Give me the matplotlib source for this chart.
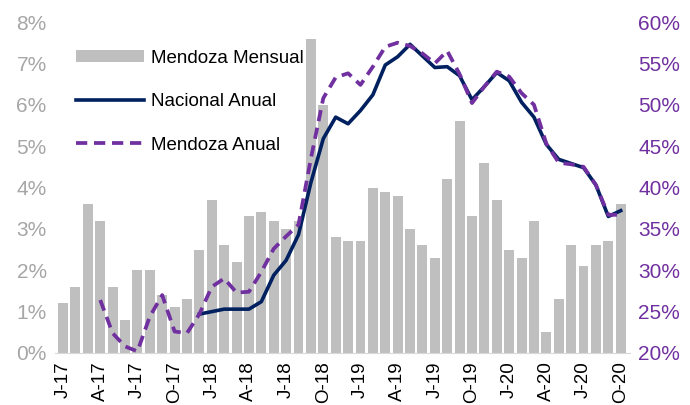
import numpy as np
import matplotlib
matplotlib.use('Agg')
import matplotlib.pyplot as plt
from matplotlib.ticker import FuncFormatter

plt.rcParams['font.family'] = ['Liberation Sans', 'DejaVu Sans']

# Monthly series Jan-2017 .. Oct-2020 (46 months)
tick_labels = ['J-17', 'A-17', 'J-17', 'O-17', 'J-18', 'A-18', 'J-18', 'O-18',
               'J-19', 'A-19', 'J-19', 'O-19', 'J-20', 'A-20', 'J-20', 'O-20']

mendoza_mensual = [1.2, 1.6, 3.6, 3.2, 1.6, 0.8, 2.0, 2.0, 1.4, 1.1,
                   1.3, 2.5, 3.7, 2.6, 2.2, 3.3, 3.4, 3.2, 3.0, 3.2,
                   7.6, 6.0, 2.8, 2.7, 2.7, 4.0, 3.9, 3.8, 3.0, 2.6,
                   2.3, 4.2, 5.6, 3.3, 4.6, 3.7, 2.5, 2.3, 3.2, 0.5,
                   1.3, 2.6, 2.1, 2.6, 2.7, 3.6]

nacional_anual = [np.nan] * 11 + [
    24.7, 25.0, 25.3, 25.3, 25.3, 26.2, 29.4, 31.2, 34.3,
    40.6, 45.9, 48.5, 47.7, 49.3, 51.2, 54.8, 55.8, 57.3, 55.9,
    54.5, 54.6, 53.5, 50.6, 52.2, 53.9, 52.9, 50.3, 48.5, 45.2,
    43.4, 42.9, 42.4, 40.3, 36.5, 37.2]

mendoza_anual = [np.nan] * 3 + [
    26.4, 22.4, 20.8, 20.2, 24.4, 27.0, 22.6,
    22.4, 24.7, 28.0, 29.0, 27.3, 27.4, 29.8, 32.6, 34.1, 35.5,
    43.5, 50.8, 53.3, 53.8, 52.4, 54.6, 57.0, 57.5, 57.1, 56.2,
    55.0, 56.5, 53.7, 50.2, 52.2, 54.0, 53.4, 51.4, 50.0, 45.3,
    43.0, 42.8, 42.5, 40.3, 36.7, 36.7]

x = np.arange(len(mendoza_mensual))

fig = plt.figure(figsize=(6.9, 4.05), dpi=100)
ax = fig.add_axes([55 / 690, 52 / 405, 575 / 690, 331 / 405])
ax2 = ax.twinx()

bars = ax.bar(x, mendoza_mensual, width=0.8, color='#bfbfbf', label='Mendoza Mensual')
l1, = ax2.plot(x, nacional_anual, color='#002060', lw=2.6, label='Nacional Anual')
l2, = ax2.plot(x, mendoza_anual, color='#7030a0', lw=2.7,
               linestyle=(0, (3.0, 1.8)), label='Mendoza Anual')

ax.set_xlim(-0.65, 45.75)
ax.set_ylim(0, 8)
ax2.set_ylim(20, 60)
ax.set_yticks(np.arange(0, 9, 1))
ax2.set_yticks(np.arange(20, 61, 5))
ax.yaxis.set_major_formatter(FuncFormatter(lambda v, p: f'{v:.0f}%'))
ax2.yaxis.set_major_formatter(FuncFormatter(lambda v, p: f'{v:.0f}%'))

ax.set_xticks(x[::3])
ax.set_xticklabels(tick_labels, rotation=90, fontsize=13.5)

ax.tick_params(axis='y', length=0, labelsize=15, labelcolor='#a6a6a6', pad=6)
ax2.tick_params(axis='y', length=0, labelsize=15, labelcolor='#7030a0', pad=6)
ax.tick_params(axis='x', length=0, pad=6)

for a in (ax, ax2):
    for s in ['top', 'left', 'right', 'bottom']:
        a.spines[s].set_visible(False)
ax.spines['bottom'].set_visible(True)
ax.spines['bottom'].set_color('#d9d9d9')

ax2.legend(handles=[bars, l1, l2], loc='upper left',
           bbox_to_anchor=(76 / 690, 1 - 50 / 405), bbox_transform=fig.transFigure,
           frameon=False, fontsize=13.5, handlelength=3.6, handletextpad=0.4,
           labelspacing=1.4, borderpad=0, borderaxespad=0, handleheight=0.6)

fig.savefig('out.png', dpi=100)
